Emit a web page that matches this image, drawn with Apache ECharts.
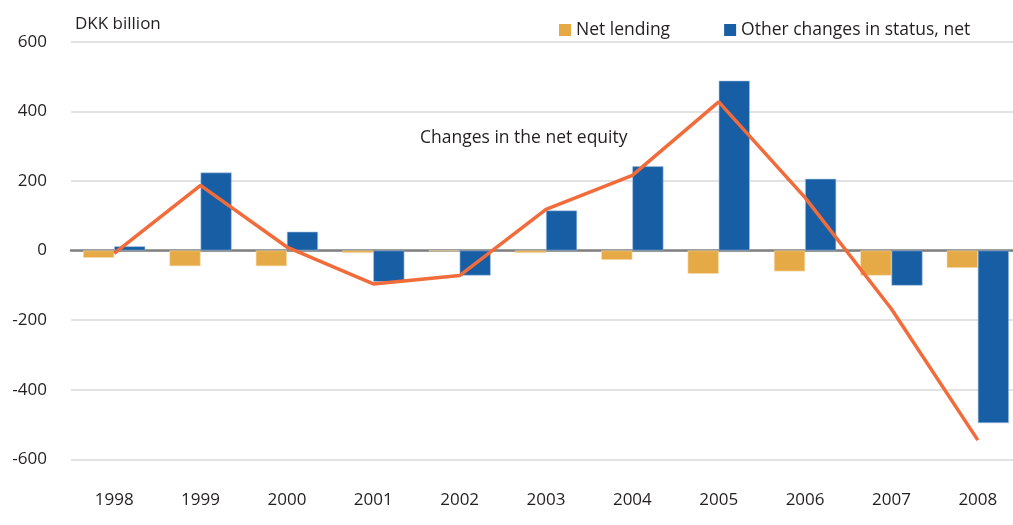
<!DOCTYPE html>
<html>
<head>
<meta charset="utf-8">
<script src="https://cdn.jsdelivr.net/npm/echarts@6/dist/echarts.min.js"></script>
<style>
html,body{margin:0;padding:0;background:#fff;overflow:hidden;width:1013px;height:525px;}
#c{width:1030px;height:525px;}
</style>
</head>
<body>
<div id="c"></div>
<script>
const years = ['1998','1999','2000','2001','2002','2003','2004','2005','2006','2007','2008'];
const netLending = [-21, -45, -45, -7, -2, -7, -27, -67, -60, -72, -50];
const otherChanges = [12, 224, 54, -90, -72, 115, 242, 488, 206, -101, -496];
const netEquity = [-8, 187, 10, -96, -72, 118, 216, 427, 152, -168, -545];
const yTicks = [-600, -400, -200, 0, 200, 400, 600];

const FONT = '"Open Sans", "Liberation Sans", sans-serif';
const chart = echarts.init(document.getElementById('c'), null, {renderer: 'canvas'});
chart.setOption({
  animation: false,
  backgroundColor: '#ffffff',
  textStyle: {fontFamily: FONT, color: '#231f20'},
  grid: {left: 71, top: 41.7, width: 950, height: 417.6, containLabel: false},
  legend: {
    left: 554, top: 16,
    itemWidth: 12, itemHeight: 12, itemGap: 54,
    icon: 'rect',
    itemStyle: {borderWidth: 0},
    textStyle: {fontFamily: FONT, fontSize: 17.5, color: '#231f20'},
    data: ['Net lending', 'Other changes in status, net']
  },
  graphic: [
    {type: 'text', left: 75, top: 16, style: {text: 'DKK billion', font: '17px ' + FONT, fill: '#231f20'}},
    {type: 'text', left: 420, top: 129, style: {text: 'Changes in the net equity', font: '17.5px ' + FONT, fill: '#231f20'}}
  ],
  xAxis: [
    {
      type: 'category', data: years,
      axisLine: {show: true, onZero: true, lineStyle: {color: '#808080', width: 2.5}},
      axisTick: {show: false}, axisLabel: {show: false}, splitLine: {show: false}
    },
    {
      type: 'category', data: years, position: 'bottom',
      axisLine: {show: false, onZero: false}, axisTick: {show: false},
      axisLabel: {show: true, margin: 32, fontSize: 17, fontFamily: FONT, color: '#231f20'}
    }
  ],
  yAxis: {
    type: 'value', min: yTicks[0], max: yTicks[yTicks.length - 1], interval: 200,
    axisLine: {show: false}, axisTick: {show: false},
    axisLabel: {margin: 24, fontSize: 17, fontFamily: FONT, color: '#231f20'},
    splitLine: {show: true, lineStyle: {color: '#d9d9d9', width: 1.5}}
  },
  series: [
    {
      name: 'Net lending', type: 'bar', data: netLending,
      barGap: '0%', barCategoryGap: '28%',
      itemStyle: {color: '#e5a945', borderColor: '#f6dcae', borderWidth: 0.6}
    },
    {
      name: 'Other changes in status, net', type: 'bar', data: otherChanges,
      barGap: '0%', barCategoryGap: '28%',
      itemStyle: {color: '#175ea4', borderColor: '#a9c3e0', borderWidth: 0.6}
    },
    {
      name: 'Changes in the net equity', type: 'line', data: netEquity,
      symbol: 'none', z: 5,
      lineStyle: {color: '#f26b3a', width: 3.5}
    }
  ]
});
</script>
</body>
</html>
